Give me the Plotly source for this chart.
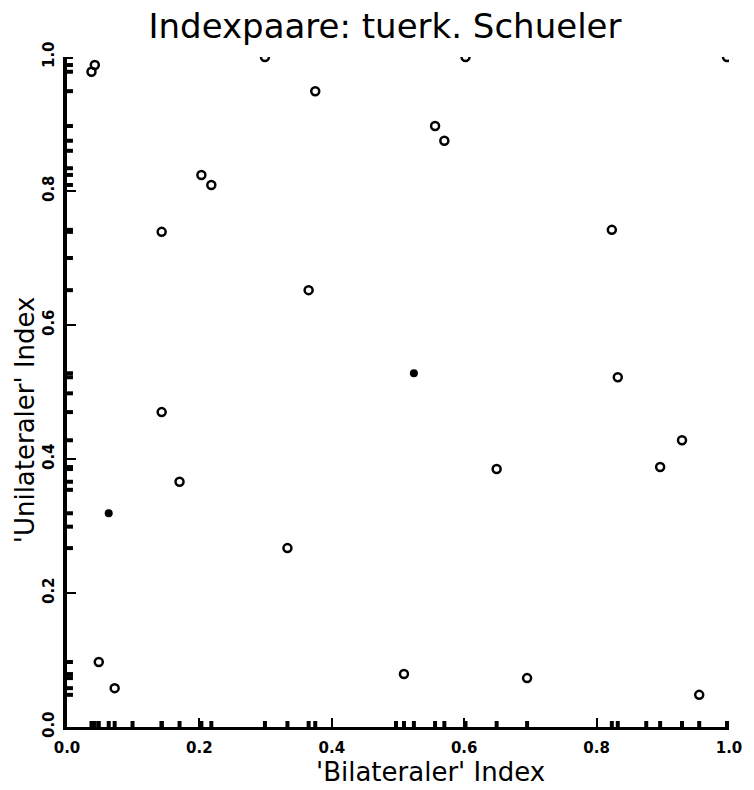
import plotly.graph_objects as go

# Data
x_open = [0.037, 0.042, 0.299, 0.602, 0.997, 0.375, 0.556, 0.570, 0.203, 0.218,
          0.143, 0.365, 0.823, 0.832, 0.143, 0.929, 0.896, 0.649, 0.170, 0.333,
          0.048, 0.072, 0.509, 0.695, 0.955]
y_open = [0.978, 0.988, 1.000, 1.000, 1.000, 0.949, 0.897, 0.875, 0.824, 0.809,
          0.739, 0.652, 0.742, 0.522, 0.470, 0.428, 0.388, 0.385, 0.366, 0.267,
          0.097, 0.058, 0.079, 0.073, 0.048]
x_filled = [0.524, 0.063]
y_filled = [0.528, 0.319]
# additional rug marks visible along the axes
x_rug_extra = [0.099, 0.497, 0.875]
y_rug_extra = [0.860, 0.834, 0.700, 0.498, 0.354, 0.299]

tick_vals = [0.0, 0.2, 0.4, 0.6, 0.8, 1.0]
tick_text = ["0.0", "0.2", "0.4", "0.6", "0.8", "1.0"]

title_text = "Indexpaare: tuerk. Schueler"
x_title = "'Bilateraler' Index"
y_title = "'Unilateraler' Index"

FONT = "DejaVu Sans"
RUG = 0.009  # rug length in axis units

x_all = x_open + x_filled + x_rug_extra
y_all = y_open + y_filled + y_rug_extra

# rug segments built from the data values
rx_x, rx_y = [], []
for v in x_all:
    rx_x += [v, v, None]
    rx_y += [0, RUG, None]
ry_x, ry_y = [], []
for v in y_all:
    ry_x += [0, RUG, None]
    ry_y += [v, v, None]

fig = go.Figure()

fig.add_trace(go.Scatter(
    x=rx_x, y=rx_y, mode="lines", line=dict(color="black", width=4),
    showlegend=False, hoverinfo="skip"))
fig.add_trace(go.Scatter(
    x=ry_x, y=ry_y, mode="lines", line=dict(color="black", width=4),
    showlegend=False, hoverinfo="skip"))

fig.add_trace(go.Scatter(
    x=x_open, y=y_open, mode="markers", cliponaxis=True,
    marker=dict(symbol="circle-open", size=8, color="black",
                line=dict(width=2.5, color="black")),
    showlegend=False))
fig.add_trace(go.Scatter(
    x=x_filled, y=y_filled, mode="markers", cliponaxis=True,
    marker=dict(symbol="circle", size=8, color="black"),
    showlegend=False))

axis_common = dict(
    range=[0, 1], showgrid=False, zeroline=False, showline=True,
    linecolor="black", ticks="inside", ticklen=9, tickwidth=1.5,
    tickcolor="black", tickvals=tick_vals, ticktext=tick_text,
    tickfont=dict(family=FONT, size=15, color="black", weight="bold"),
)

fig.update_layout(
    width=754, height=790,
    margin=dict(l=67, r=21, t=57, b=63),
    paper_bgcolor="white", plot_bgcolor="white",
    title=dict(text=title_text, x=385 / 754, xanchor="center", xref="container",
               y=1 - 26 / 790, yanchor="middle", yref="container",
               font=dict(family=FONT, size=34, color="black")),
    xaxis=dict(**axis_common, linewidth=3, ticklabelstandoff=5),
    yaxis=dict(**axis_common, linewidth=4, tickangle=-90, ticklabelstandoff=3),
    annotations=[
        dict(text=x_title, xref="paper", yref="paper", x=(433 - 67) / 666,
             y=-(772 - 727) / 670, xanchor="center", yanchor="middle",
             showarrow=False, font=dict(family=FONT, size=26, color="black")),
        dict(text=y_title, xref="paper", yref="paper", x=-(67 - 25) / 666,
             y=(727 - 420) / 670, xanchor="center", yanchor="middle",
             showarrow=False, textangle=-90,
             font=dict(family=FONT, size=26, color="black")),
    ],
)

fig.write_html("out.html")
